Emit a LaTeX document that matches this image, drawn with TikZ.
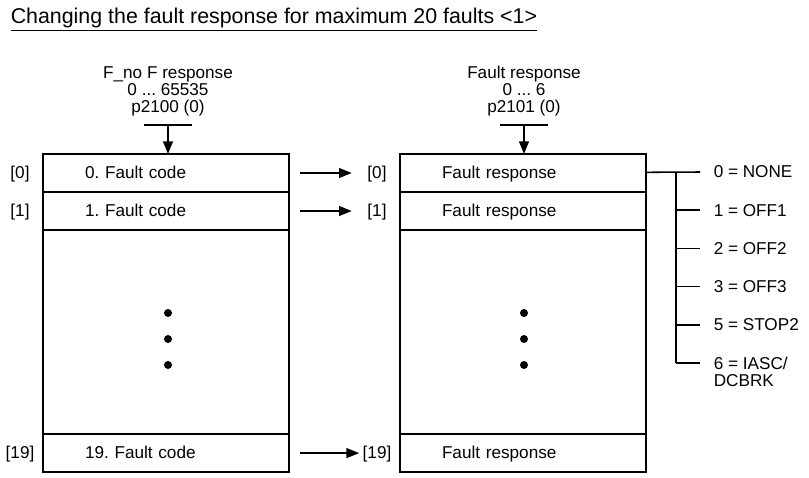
\documentclass[tikz,border=0pt]{standalone}
\usepackage{fontspec}
\setmainfont{Liberation Sans}
\usepackage{tikz}
\usetikzlibrary{arrows.meta,positioning}
\frenchspacing

\begin{document}
\begin{tikzpicture}[
    x=0.025cm, y=-0.025cm,
    >={Triangle[length=9pt,width=7pt]},
    font=\fontsize{12.2}{12.2}\selectfont,
    line width=1.1pt,
    row/.style={draw, rectangle, outer sep=0pt, inner ysep=0pt, inner xsep=1.05cm,
                text width=4.05cm, align=left, minimum height=#1,
                text height=0.99em, text depth=0.21em},
    row/.default=0.95cm,
    idx/.style={inner sep=0pt, align=center, text height=0.99em, text depth=0.21em},
    par/.style={inner sep=0pt, align=center},
    resp/.style={anchor=west, inner sep=0pt, align=left},
    arr/.style={->},
]
\useasboundingbox (0,0) rectangle (809,478);

% --- Title ---
\node[anchor=base west, inner sep=0pt, font=\fontsize{15.2}{18}\selectfont] (title) at (10,24)
    {\underline{Changing the fault response for maximum 20 faults <1>}};

% --- Fault code array ---
\node[row, anchor=north west] (fc0) at (43,154) {0. Fault code};
\node[row, below=0pt of fc0] (fc1) {1. Fault code};
\node[row=5.1cm, below=0pt of fc1] (fcgap) {};
\node[row, below=0pt of fcgap] (fc19) {19. Fault code};

% --- Fault response array ---
\node[row, anchor=north west] (fr0) at (400,154) {Fault response};
\node[row, below=0pt of fr0] (fr1) {Fault response};
\node[row=5.1cm, below=0pt of fr1] (frgap) {};
\node[row, below=0pt of frgap] (fr19) {Fault response};

% dots
\foreach \y in {313,339,365} {
    \fill (168,\y) circle (0.1cm);
    \fill (524,\y) circle (0.1cm);
}

% --- Parameters ---
\coordinate (cbar) at (168,125);
\coordinate (rbar) at (524,125);
\node[par, above=0.2cm of cbar] (cpar) {F\_no F response\\0 ... 65535\\p2100 (0)};
\node[par, above=0.2cm of rbar] (rpar) {Fault response\\0 ... 6\\p2101 (0)};
\draw ([xshift=-0.59cm]cbar) -- ([xshift=0.59cm]cbar);
\draw ([xshift=-0.59cm]rbar) -- ([xshift=0.59cm]rbar);
\draw[arr] (cbar) -- (cbar |- fc0.north);
\draw[arr] (rbar) -- (rbar |- fr0.north);

% --- Indices ---
\coordinate (lidx) at (20,0);
\coordinate (ridx) at (377,0);
\node[idx] (ci0) at (lidx |- fc0) {[0]};
\node[idx] (ci1) at (lidx |- fc1) {[1]};
\node[idx] (ci19) at (lidx |- fc19) {[19]};
\node[idx] (ri0) at (ridx |- fr0) {[0]};
\node[idx] (ri1) at (ridx |- fr1) {[1]};
\node[idx] (ri19) at (ridx |- fr19) {[19]};

\draw[arr, shorten <=0.275cm, shorten >=0.375cm] (fc0) -- (ri0);
\draw[arr, shorten <=0.275cm, shorten >=0.375cm] (fc1) -- (ri1);
\draw[arr, shorten <=0.275cm, shorten >=0.07cm] (fc19) -- (ri19);

% --- Fault response values ---
\coordinate (tap) at (676,0);
\foreach \n in {0,...,5}
    \coordinate (s\n) at (700,{172+38.2*\n});
\foreach \n/\txt in {0/0 = NONE,1/1 = OFF1,2/2 = OFF2,3/3 = OFF3,4/5 = STOP2}
    \node[resp] (r\n) at ([xshift=0.325cm]s\n) {\txt};
\node[resp, anchor=north west] (r5) at ([xshift=0.325cm,yshift=0.16cm]s5) {6 = IASC/\\DCBRK};

\draw (fr0) -- (s0);
\draw (tap |- s0) -- (tap |- s5);
\foreach \n in {1,...,5}
    \draw (tap |- s\n) -- (s\n);

\end{tikzpicture}
\end{document}
